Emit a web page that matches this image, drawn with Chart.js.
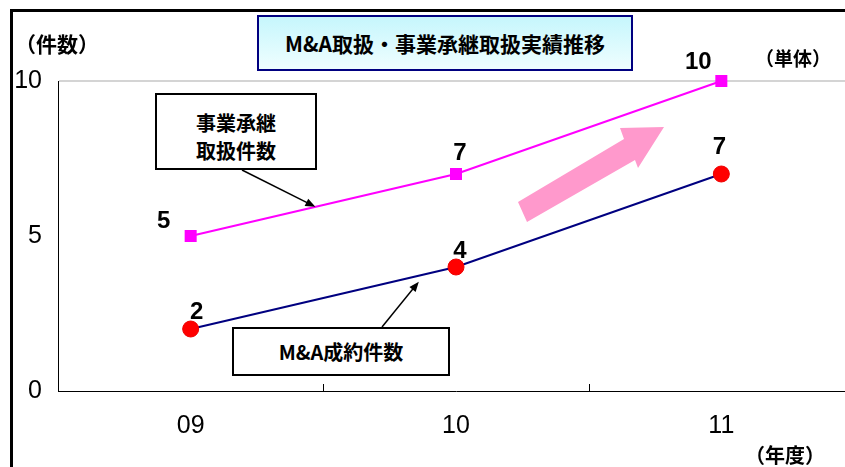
<!DOCTYPE html>
<html lang="ja">
<head>
<meta charset="UTF-8">
<title>M&amp;A取扱・事業承継取扱実績推移</title>
<script src="https://cdn.jsdelivr.net/npm/chart.js@4.4.1/dist/chart.umd.min.js"></script>
<style>
    html, body {
        margin: 0;
        padding: 0;
        background: #ffffff;
        overflow: hidden;
        width: 845px;
        height: 467px;
    }
    .wrap {
        position: relative;
        width: 863px;
        height: 467px;
    }
    #chart {
        position: absolute;
        left: 0;
        top: 0;
    }
    .frame {
        position: absolute;
        left: 10px;
        top: 9px;
        width: 900px;
        height: 500px;
        border-left: 3px solid #000;
        border-top: 3px solid #000;
        pointer-events: none;
    }
    .jp {
        position: absolute;
        font-family: 'Noto Sans CJK JP', 'Noto Sans', sans-serif;
        font-weight: bold;
        color: #000;
        white-space: nowrap;
    }
    .title {
        left: 257px;
        top: 15px;
        width: 372px;
        height: 52px;
        border: 2px solid #000080;
        background: linear-gradient(#c6f6fc, #effeff);
        font-size: 21px;
        line-height: 52px;
        text-align: center;
    }
    .unit { line-height: 26px; }
    .note {
        border: 2px solid #000;
        background: #fff;
        font-size: 20px;
        text-align: center;
    }
</style>
</head>
<body>
<div class="wrap">
    <canvas id="chart" width="863" height="467"></canvas>
    <div class="frame"></div>
    <div class="jp title">M&amp;A取扱・事業承継取扱実績推移</div>
    <div class="jp unit" style="left:15px; top:30px; font-size:21px;">（件数）</div>
    <div class="jp unit" style="left:755px; top:45px; font-size:19px;">（単体）</div>
    <div class="jp unit" style="left:745px; top:442px; font-size:20px;">（年度）</div>
    <div class="jp note" style="left:155px; top:93px; width:158px; height:73px; line-height:28px;">
        <div style="margin-top:14px;">事業承継</div><div>取扱件数</div>
    </div>
    <div class="jp note" style="left:232px; top:327px; width:214px; height:45px; line-height:45px;">M&amp;A成約件数</div>
</div>

<script>
    // data
    var years = ['09', '10', '11'];
    var successionCounts = [5, 7, 10];   // 事業承継取扱件数
    var maCounts = [2, 4, 7];            // M&A成約件数
    var yTicks = [0, 5, 10];

    // label nudges (px) for the value labels of each series
    var successionLabelShift = [[-27, -15], [4, -21], [-23, -19]];
    var maLabelShift = [[6, -17], [4, -16], [-2, -27]];

    var numFont = "'Liberation Sans Narrow', 'Liberation Sans', Arial, sans-serif";

    var valueLabels = {
        id: 'valueLabels',
        afterDatasetsDraw: function (chart) {
            var ctx = chart.ctx;
            var shifts = [successionLabelShift, maLabelShift];
            ctx.save();
            ctx.fillStyle = '#000';
            ctx.font = 'bold 24px ' + numFont;
            ctx.textAlign = 'center';
            ctx.textBaseline = 'middle';
            chart.data.datasets.forEach(function (ds, di) {
                chart.getDatasetMeta(di).data.forEach(function (pt, i) {
                    var s = shifts[di][i];
                    ctx.fillText(String(ds.data[i]), pt.x + s[0], pt.y + s[1]);
                });
            });
            ctx.restore();
        }
    };

    function pointer(ctx, x0, y0, x1, y1) {
        var a = Math.atan2(y1 - y0, x1 - x0);
        ctx.beginPath();
        ctx.moveTo(x0, y0);
        ctx.lineTo(x1 - 6 * Math.cos(a), y1 - 6 * Math.sin(a));
        ctx.stroke();
        ctx.beginPath();
        ctx.moveTo(x1, y1);
        ctx.lineTo(x1 - 10 * Math.cos(a) + 4 * Math.sin(a), y1 - 10 * Math.sin(a) - 4 * Math.cos(a));
        ctx.lineTo(x1 - 10 * Math.cos(a) - 4 * Math.sin(a), y1 - 10 * Math.sin(a) + 4 * Math.cos(a));
        ctx.closePath();
        ctx.fill();
    }

    var decorations = {
        id: 'decorations',
        beforeDatasetsDraw: function (chart) {
            var ctx = chart.ctx;
            var x = chart.scales.x;
            var area = chart.chartArea;
            ctx.save();
            // small inside tick marks between years
            ctx.strokeStyle = '#000';
            ctx.lineWidth = 1;
            for (var i = 0; i < years.length - 1; i++) {
                var mx = Math.round((x.getPixelForValue(i) + x.getPixelForValue(i + 1)) / 2) + 0.5;
                ctx.beginPath();
                ctx.moveTo(mx, area.bottom - 7);
                ctx.lineTo(mx, area.bottom);
                ctx.stroke();
            }
            // big pink "growth" arrow
            ctx.fillStyle = '#ff99cc';
            ctx.beginPath();
            ctx.moveTo(518, 202);
            ctx.lineTo(624, 139);
            ctx.lineTo(620, 128);
            ctx.lineTo(664, 127);
            ctx.lineTo(638, 168);
            ctx.lineTo(635, 160);
            ctx.lineTo(527, 222);
            ctx.closePath();
            ctx.fill();
            ctx.restore();
        },
        afterDatasetsDraw: function (chart) {
            var ctx = chart.ctx;
            var p = chart.getDatasetMeta(0).data;
            var m = chart.getDatasetMeta(1).data;
            ctx.save();
            ctx.strokeStyle = '#000';
            ctx.fillStyle = '#000';
            ctx.lineWidth = 1.5;
            // callout pointers onto the two lines
            var t1 = 0.47;
            pointer(ctx, 242, 170, p[0].x + (p[1].x - p[0].x) * t1, p[0].y + (p[1].y - p[0].y) * t1);
            var t2 = 0.86;
            pointer(ctx, 382, 327, m[0].x + (m[1].x - m[0].x) * t2, m[0].y + (m[1].y - m[0].y) * t2 + 6);
            ctx.restore();
        }
    };

    var ctx = document.getElementById('chart').getContext('2d');
    var myChart = new Chart(ctx, {
        type: 'line',
        data: {
            labels: years,
            datasets: [
                {
                    label: '事業承継取扱件数',
                    data: successionCounts,
                    borderColor: '#ff00ff',
                    borderWidth: 2,
                    pointStyle: 'rect',
                    pointRadius: 8.5,
                    pointBackgroundColor: '#ff00ff',
                    pointBorderWidth: 0,
                    tension: 0,
                    clip: false
                },
                {
                    label: 'M&A成約件数',
                    data: maCounts,
                    borderColor: '#000080',
                    borderWidth: 2,
                    pointStyle: 'circle',
                    pointRadius: 8,
                    pointBackgroundColor: '#ff0000',
                    pointBorderColor: '#ee0000',
                    pointBorderWidth: 1,
                    tension: 0,
                    clip: false
                }
            ]
        },
        options: {
            responsive: false,
            animation: false,
            layout: { padding: { top: 81, left: 0, right: 2, bottom: 0 } },
            plugins: {
                legend: { display: false },
                tooltip: { enabled: false }
            },
            scales: {
                x: {
                    offset: true,
                    grid: { display: false, drawTicks: false },
                    border: { display: true, color: '#000', width: 1 },
                    ticks: {
                        color: '#000',
                        font: { family: numFont, size: 25 },
                        padding: 20,
                        maxRotation: 0
                    },
                    afterFit: function (scale) { scale.height = 76; }
                },
                y: {
                    min: 0,
                    max: 10,
                    afterBuildTicks: function (scale) {
                        scale.ticks = yTicks.map(function (v) { return { value: v }; });
                    },
                    grid: {
                        drawTicks: false,
                        lineWidth: 2,
                        color: function (c) {
                            return c.tick && c.tick.value === 10 ? '#d4d4d4' : 'rgba(0,0,0,0)';
                        }
                    },
                    border: { display: true, color: '#000', width: 1 },
                    ticks: {
                        color: '#000',
                        font: { family: numFont, size: 25 },
                        padding: 16
                    },
                    afterFit: function (scale) { scale.width = 58; }
                }
            }
        },
        plugins: [decorations, valueLabels]
    });
</script>
</body>
</html>
